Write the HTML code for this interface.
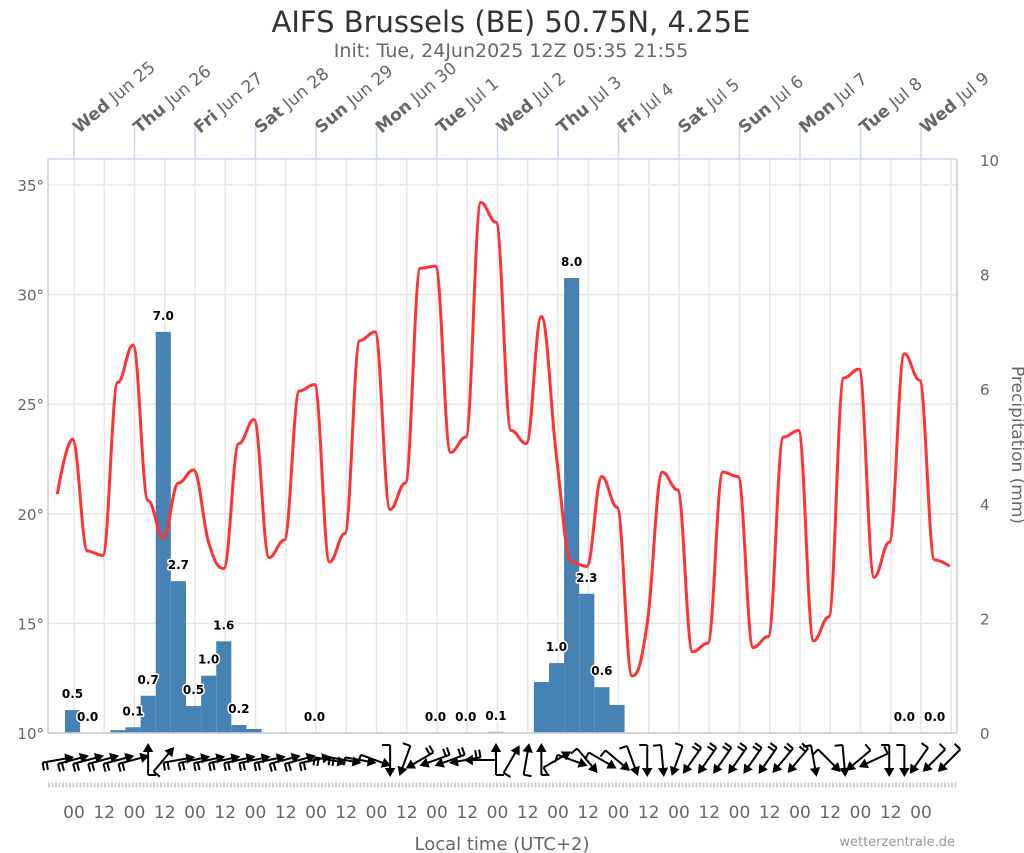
<!DOCTYPE html>
<html><head><meta charset="utf-8"><style>
body{margin:0;background:#fff;}
svg{display:block;font-family:"DejaVu Sans","Liberation Sans",sans-serif;}
</style></head><body>
<svg id="chart" width="1024" height="853" viewBox="0 0 1024 853" xmlns="http://www.w3.org/2000/svg">
<rect width="1024" height="853" fill="#fff"/>
<text x="511" y="32" text-anchor="middle" font-size="29" fill="#333">AIFS Brussels (BE) 50.75N, 4.25E</text>
<text x="511" y="57" text-anchor="middle" font-size="19" fill="#666">Init: Tue, 24Jun2025 12Z 05:35 21:55</text>
<g id="grid"></g>
<g id="bars"></g>
<g id="temp"></g>
<g id="labels"></g>
<g id="wind"></g>
<g id="axes"></g>
<text x="502" y="850" text-anchor="middle" font-size="18" fill="#666">Local time (UTC+2)</text>
<text x="955" y="846" text-anchor="end" font-size="13" fill="#999">wetterzentrale.de</text>
<text transform="translate(1012,445) rotate(90)" text-anchor="middle" font-size="17" fill="#666">Precipitation (mm)</text>
</svg>
<script>
// ---- data ----
const dayLabelsBold = ["Wed","Thu","Fri","Sat","Sun","Mon","Tue","Wed","Thu","Fri","Sat","Sun","Mon","Tue","Wed"];
const dayLabelsDate = ["Jun 25","Jun 26","Jun 27","Jun 28","Jun 29","Jun 30","Jul 1","Jul 2","Jul 3","Jul 4","Jul 5","Jul 6","Jul 7","Jul 8","Jul 9"];
const tempTicks = [10,15,20,25,30,35];
const precipTicks = [0,2,4,6,8,10];
// temperature every 6h, starting at step -1
const tempValues = [20.9,23.4,18.3,18.1,26.0,27.7,20.6,18.9,21.4,22.0,18.7,17.5,23.2,24.3,18.0,18.8,25.6,25.9,17.8,19.1,27.9,28.3,20.2,21.4,31.2,31.3,22.8,23.5,34.2,33.3,23.8,23.2,29.0,22.6,17.8,17.6,21.7,20.3,12.6,15.0,21.9,21.1,13.7,14.1,21.9,21.7,13.9,14.4,23.5,23.8,14.2,15.3,26.2,26.6,17.1,18.7,27.3,26.1,17.9,17.6];
const precipSteps = [0,1,3,4,5,6,7,8,9,10,11,12,28,31,32,33,34,35,36];
const precipValues = [0.4,0,0.05,0.1,0.65,7.0,2.65,0.47,1.0,1.6,0.14,0.07,0.02,0.89,1.22,7.94,2.43,0.8,0.49];
const labelSteps = [0,1,4,5,6,7,8,9,10,11,16,24,26,28,32,33,34,35,55,57];
const labelValues = ["0.5","0.0","0.1","0.7","7.0","2.7","0.5","1.0","1.6","0.2","0.0","0.0","0.0","0.1","1.0","8.0","2.3","0.6","0.0","0.0"];
const labelBase = [0.4,0,0.1,0.65,7.0,2.65,0.47,1.0,1.6,0.14,0,0,0,0.02,1.22,7.94,2.43,0.8,0,0];
// wind arrow direction (deg, 0=up) every 6h starting step -1
const windDir = [80,75,75,75,75,75,0,40,80,78,78,78,78,78,78,75,75,78,100,100,100,110,180,200,240,250,250,260,270,0,30,10,0,60,110,140,120,130,160,180,175,200,215,215,215,215,215,215,220,220,170,135,175,230,245,180,180,215,225,225];
const windSpeed = [2,2,2,2,2,2,1,1,2,2,2,2,2,2,2,2,2,2,2,2,1,1,1,1,2,2,2,2,1,1,1,1,1,1,1,1,1,1,1,1,1,1,2,2,2,2,2,2,2,2,1,1,1,1,1,1,1,1,1,1];

// ---- scales ----
const L=48,R=957,T=159,B=733;
const xT = t => 74 + t*60.5/24;
const xStep = k => xT(6*k-0.6);
const yTemp = v => B - (v-10)*21.92;
const yPr = v => B - v*57.3;
const NS="http://www.w3.org/2000/svg";
function mk(tag,attrs,parent){const e=document.createElementNS(NS,tag);for(const a in attrs)e.setAttribute(a,attrs[a]);parent.appendChild(e);return e;}

const grid=document.getElementById('grid'), axes=document.getElementById('axes');
for(let t=-12;t<=360;t+=12){const x=xT(t);if(x<L||x>R)continue;
 const g=mk('line',{x1:x,x2:x,y1:T,y2:B,stroke:'#e6e6e6','stroke-width':1.5},grid);
 
 }
tempTicks.forEach(v=>{const y=yTemp(v);
 const g=mk('line',{x1:L,x2:R,y1:y,y2:y,stroke:'#e6e6e6','stroke-width':1.5},grid);
 
 
 const tx=mk('text',{x:44,y:y+6,'text-anchor':'end','font-size':15,fill:'#666'},axes);tx.textContent=v+'°';
 
 });
precipTicks.forEach(v=>{const y=yPr(v);
 const tx=mk('text',{x:980,y:y+6,'text-anchor':'start','font-size':15,fill:'#666'},axes);tx.textContent=v;
 
 });
let f=mk('line',{x1:L,x2:R,y1:T,y2:T,stroke:'#ccd6eb','stroke-width':1.5},axes);

f=mk('line',{x1:L,x2:L,y1:T,y2:B,stroke:'#ccc','stroke-width':1.5},axes);

f=mk('line',{x1:R,x2:R,y1:T,y2:B,stroke:'#ccc','stroke-width':1.5},axes);

f=mk('line',{x1:L,x2:R,y1:B,y2:B,stroke:'#ccc','stroke-width':1.5},axes);

dayLabelsBold.forEach((d,i)=>{const x=xT(24*i);
 const tk=mk('line',{x1:x,x2:x,y1:127,y2:T,stroke:'#ccd6eb','stroke-width':1.5},axes);
 
 
 const tx=mk('text',{transform:`translate(${x+5},${134}) rotate(-40)`,'font-size':17,fill:'#666'},axes);
 
 
 const b=mk('tspan',{'font-weight':'bold'},tx);b.textContent=d;
 const s=mk('tspan',{},tx);s.textContent=' '+dayLabelsDate[i];});
for(let i=0;i<=28;i++){const x=xT(12*i);
 const tx=mk('text',{x:x,y:818,'text-anchor':'middle','font-size':17,fill:'#666'},axes);tx.textContent=i%2?'12':'00';
 
 }
f=mk('line',{x1:L,x2:R,y1:785,y2:785,stroke:'#cbd2de','stroke-width':5,'stroke-dasharray':'2 1.5'},axes);


const bars=document.getElementById('bars');
precipSteps.forEach((k,i)=>{const cx=xStep(k),y=yPr(precipValues[i]);
 const r=mk('rect',{x:cx-7.5,y:y,width:15.1,height:Math.max(0,B-y),fill:'#4682b4'},bars);
 
 });
const labs=document.getElementById('labels');
labelSteps.forEach((k,i)=>{const cx=xStep(k),y=yPr(labelBase[i])-12;
 const tx=mk('text',{x:cx,y:y,'text-anchor':'middle','font-size':12,'font-weight':'bold',fill:'#000',stroke:'#fff','stroke-width':3,'paint-order':'stroke','stroke-linejoin':'round'},labs);
 tx.textContent=labelValues[i];
 
 });

const pts=tempValues.map((v,i)=>[xStep(i-1),yTemp(v)]);
let d=`M${pts[0][0]},${pts[0][1]}`;
const sm=1.5;
function ctrl(i){const p=pts[i],a=pts[i-1],n=pts[i+1];
 if(!a||!n)return [p,p];
 let lx=(sm*p[0]+a[0])/(sm+1),ly=(sm*p[1]+a[1])/(sm+1),rx=(sm*p[0]+n[0])/(sm+1),ry=(sm*p[1]+n[1])/(sm+1);
 let cor=0; if(rx!==lx){cor=((ry-ly)*(rx-p[0]))/(rx-lx)+p[1]-ry;}
 ly+=cor;ry+=cor;
 if(ly>Math.max(a[1],p[1])||ly<Math.min(a[1],p[1])||ry>Math.max(n[1],p[1])||ry<Math.min(n[1],p[1])){ly=p[1];ry=p[1];}
 return [[lx,ly],[rx,ry]];}
const C=pts.map((p,i)=>ctrl(i));
for(let i=1;i<pts.length;i++){const c1=C[i-1][1],c2=C[i][0],p=pts[i];
 d+=` C${c1[0]},${c1[1]} ${c2[0]},${c2[1]} ${p[0]},${p[1]}`;}
const tl=mk('path',{d:d,fill:'none',stroke:'#ff3333','stroke-width':3,'stroke-linejoin':'round'},document.getElementById('temp'));



const wind=document.getElementById('wind');
windDir.forEach((dir,i)=>{const cx=xStep(i-1),cy=760,len=15;
 const r=dir*Math.PI/180,dx=Math.sin(r)*len,dy=-Math.cos(r)*len;
 const g=mk('g',{stroke:'#000','stroke-width':2,fill:'#000'},wind);
 
 
 const hx=cx+dx,hy=cy+dy,tx=cx-dx,ty=cy-dy;
 mk('line',{x1:tx,y1:ty,x2:hx,y2:hy},g);
 const ux=dx/len,uy=dy/len;
 mk('polygon',{points:`${hx},${hy} ${hx-ux*6-uy*3.5},${hy-uy*6+ux*3.5} ${hx-ux*6+uy*3.5},${hy-uy*6-ux*3.5}`},g);
 for(let s=0;s<windSpeed[i];s++){const bx=tx+ux*s*4,by=ty+uy*s*4;
  mk('line',{x1:bx,y1:by,x2:bx-uy*8,y2:by+ux*8},g);}
});
</script>
</body></html>
